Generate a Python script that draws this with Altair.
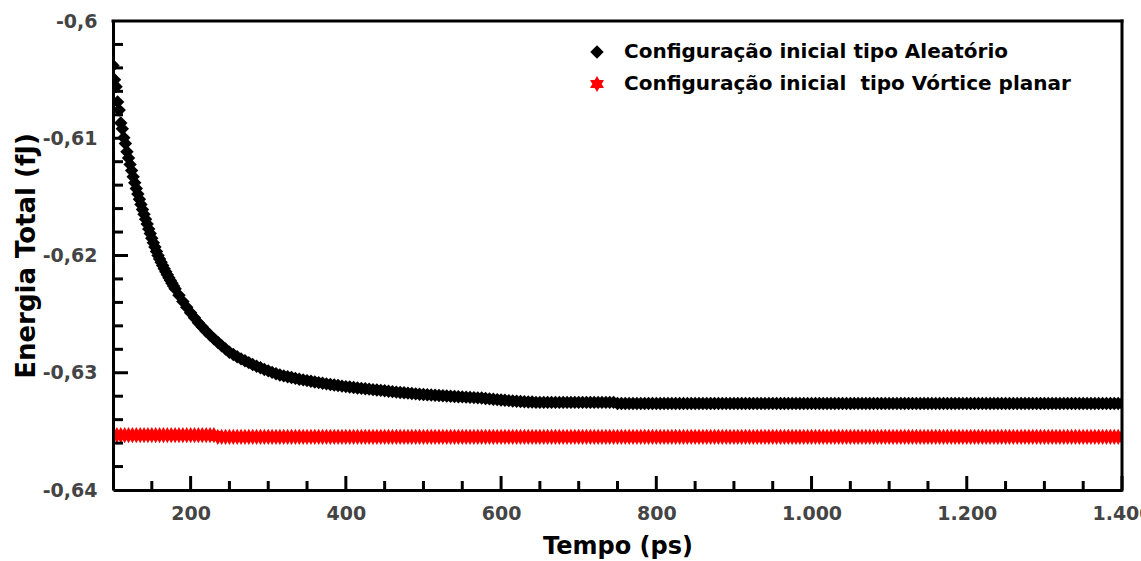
import altair as alt
import pandas as pd

SERIES = ["Configuração inicial tipo Aleatório",
          "Configuração inicial\u00a0 tipo Vórtice planar"]

# time grids (ps)
T_BLACK = list(range(100, 181, 2)) + list(range(185, 1401, 5))
T_RED = list(range(100, 1401, 5))

# Energia total (fJ) - random initial configuration
E_BLACK = [
    -0.60380, -0.60500, -0.60560, -0.60690, -0.60760, -0.60870, -0.60920, -0.60995, -0.61045, -0.61115,
    -0.61168, -0.61223, -0.61276, -0.61328, -0.61379, -0.61428, -0.61475, -0.61520, -0.61564, -0.61607,
    -0.61649, -0.61690, -0.61731, -0.61773, -0.61813, -0.61853, -0.61891, -0.61928, -0.61965, -0.62000,
    -0.62029, -0.62057, -0.62085, -0.62112, -0.62138, -0.62164, -0.62189, -0.62213, -0.62237, -0.62260,
    -0.62284,
    # 185 .. 640 step 5
    -0.62339, -0.62392, -0.62441, -0.62488, -0.62531, -0.62573, -0.62610, -0.62646, -0.62679, -0.62711,
    -0.62740, -0.62770, -0.62798, -0.62825, -0.62845, -0.62864, -0.62882, -0.62898, -0.62914, -0.62930,
    -0.62944, -0.62958, -0.62972, -0.62984, -0.62997, -0.63008, -0.63019, -0.63027, -0.63034, -0.63041,
    -0.63048, -0.63055, -0.63061, -0.63067, -0.63073, -0.63079, -0.63084, -0.63090, -0.63095, -0.63100,
    -0.63105, -0.63109, -0.63114, -0.63118, -0.63122, -0.63126, -0.63130, -0.63133, -0.63137, -0.63140,
    -0.63144, -0.63147, -0.63150, -0.63154, -0.63158, -0.63161, -0.63165, -0.63168, -0.63171, -0.63174,
    -0.63177, -0.63180, -0.63183, -0.63185, -0.63188, -0.63190, -0.63192, -0.63194, -0.63196, -0.63198,
    -0.63200, -0.63202, -0.63204, -0.63206, -0.63208, -0.63210, -0.63212, -0.63214, -0.63216, -0.63220,
    -0.63223, -0.63226, -0.63229, -0.63232, -0.63235, -0.63238, -0.63241, -0.63243, -0.63245, -0.63247,
    -0.63249, -0.63250,
    # 645 .. 745
    -0.63253, -0.63253, -0.63253, -0.63253, -0.63253, -0.63253, -0.63253, -0.63253, -0.63253, -0.63253,
    -0.63253, -0.63253, -0.63253, -0.63253, -0.63253, -0.63253, -0.63253, -0.63253, -0.63253, -0.63253,
    -0.63253,
    # 750 .. 1400
    -0.63262, -0.63262, -0.63262, -0.63262, -0.63262, -0.63262, -0.63262, -0.63262, -0.63262, -0.63262,
    -0.63262, -0.63262, -0.63262, -0.63262, -0.63262, -0.63262, -0.63262, -0.63262, -0.63262, -0.63262,
    -0.63262, -0.63262, -0.63262, -0.63262, -0.63262, -0.63262, -0.63262, -0.63262, -0.63262, -0.63262,
    -0.63262, -0.63262, -0.63262, -0.63262, -0.63262, -0.63262, -0.63262, -0.63262, -0.63262, -0.63262,
    -0.63262, -0.63262, -0.63262, -0.63262, -0.63262, -0.63262, -0.63262, -0.63262, -0.63262, -0.63262,
    -0.63262, -0.63262, -0.63262, -0.63262, -0.63262, -0.63262, -0.63262, -0.63262, -0.63262, -0.63262,
    -0.63262, -0.63262, -0.63262, -0.63262, -0.63262, -0.63262, -0.63262, -0.63262, -0.63262, -0.63262,
    -0.63262, -0.63262, -0.63262, -0.63262, -0.63262, -0.63262, -0.63262, -0.63262, -0.63262, -0.63262,
    -0.63262, -0.63262, -0.63262, -0.63262, -0.63262, -0.63262, -0.63262, -0.63262, -0.63262, -0.63262,
    -0.63262, -0.63262, -0.63262, -0.63262, -0.63262, -0.63262, -0.63262, -0.63262, -0.63262, -0.63262,
    -0.63262, -0.63262, -0.63262, -0.63262, -0.63262, -0.63262, -0.63262, -0.63262, -0.63262, -0.63262,
    -0.63262, -0.63262, -0.63262, -0.63262, -0.63262, -0.63262, -0.63262, -0.63262, -0.63262, -0.63262,
    -0.63262, -0.63262, -0.63262, -0.63262, -0.63262, -0.63262, -0.63262, -0.63262, -0.63262, -0.63262,
    -0.63262,
]

# Energia total (fJ) - planar vortex initial configuration
E_RED = [
    # 100 .. 230
    -0.63532, -0.63532, -0.63532, -0.63532, -0.63532, -0.63532, -0.63532, -0.63532, -0.63532, -0.63532,
    -0.63532, -0.63532, -0.63532, -0.63532, -0.63532, -0.63532, -0.63532, -0.63532, -0.63532, -0.63532,
    -0.63532, -0.63532, -0.63532, -0.63532, -0.63532, -0.63532, -0.63532,
    # 235 .. 1400
    -0.63547, -0.63547, -0.63547, -0.63547, -0.63547, -0.63547, -0.63547, -0.63547, -0.63547, -0.63547,
    -0.63547, -0.63547, -0.63547, -0.63547, -0.63547, -0.63547, -0.63547, -0.63547, -0.63547, -0.63547,
    -0.63547, -0.63547, -0.63547, -0.63547, -0.63547, -0.63547, -0.63547, -0.63547, -0.63547, -0.63547,
    -0.63547, -0.63547, -0.63547, -0.63547, -0.63547, -0.63547, -0.63547, -0.63547, -0.63547, -0.63547,
    -0.63547, -0.63547, -0.63547, -0.63547, -0.63547, -0.63547, -0.63547, -0.63547, -0.63547, -0.63547,
    -0.63547, -0.63547, -0.63547, -0.63547, -0.63547, -0.63547, -0.63547, -0.63547, -0.63547, -0.63547,
    -0.63547, -0.63547, -0.63547, -0.63547, -0.63547, -0.63547, -0.63547, -0.63547, -0.63547, -0.63547,
    -0.63547, -0.63547, -0.63547, -0.63547, -0.63547, -0.63547, -0.63547, -0.63547, -0.63547, -0.63547,
    -0.63547, -0.63547, -0.63547, -0.63547, -0.63547, -0.63547, -0.63547, -0.63547, -0.63547, -0.63547,
    -0.63547, -0.63547, -0.63547, -0.63547, -0.63547, -0.63547, -0.63547, -0.63547, -0.63547, -0.63547,
    -0.63547, -0.63547, -0.63547, -0.63547, -0.63547, -0.63547, -0.63547, -0.63547, -0.63547, -0.63547,
    -0.63547, -0.63547, -0.63547, -0.63547, -0.63547, -0.63547, -0.63547, -0.63547, -0.63547, -0.63547,
    -0.63547, -0.63547, -0.63547, -0.63547, -0.63547, -0.63547, -0.63547, -0.63547, -0.63547, -0.63547,
    -0.63547, -0.63547, -0.63547, -0.63547, -0.63547, -0.63547, -0.63547, -0.63547, -0.63547, -0.63547,
    -0.63547, -0.63547, -0.63547, -0.63547, -0.63547, -0.63547, -0.63547, -0.63547, -0.63547, -0.63547,
    -0.63547, -0.63547, -0.63547, -0.63547, -0.63547, -0.63547, -0.63547, -0.63547, -0.63547, -0.63547,
    -0.63547, -0.63547, -0.63547, -0.63547, -0.63547, -0.63547, -0.63547, -0.63547, -0.63547, -0.63547,
    -0.63547, -0.63547, -0.63547, -0.63547, -0.63547, -0.63547, -0.63547, -0.63547, -0.63547, -0.63547,
    -0.63547, -0.63547, -0.63547, -0.63547, -0.63547, -0.63547, -0.63547, -0.63547, -0.63547, -0.63547,
    -0.63547, -0.63547, -0.63547, -0.63547, -0.63547, -0.63547, -0.63547, -0.63547, -0.63547, -0.63547,
    -0.63547, -0.63547, -0.63547, -0.63547, -0.63547, -0.63547, -0.63547, -0.63547, -0.63547, -0.63547,
    -0.63547, -0.63547, -0.63547, -0.63547, -0.63547, -0.63547, -0.63547, -0.63547, -0.63547, -0.63547,
    -0.63547, -0.63547, -0.63547, -0.63547, -0.63547, -0.63547, -0.63547, -0.63547, -0.63547, -0.63547,
    -0.63547, -0.63547, -0.63547, -0.63547,
]

X_LABELS = [200, 400, 600, 800, 1000, 1200, 1400]
X_MINOR = [150, 250, 300, 350, 450, 500, 550, 650, 700, 750, 850, 900, 950,
           1050, 1100, 1150, 1250, 1300, 1350]
Y_LABELS = [-0.64, -0.63, -0.62, -0.61, -0.60]
Y_MAJOR = [-0.63, -0.62, -0.61]
Y_MINOR = [-0.638, -0.636, -0.634, -0.632, -0.628, -0.626, -0.624, -0.622,
           -0.618, -0.616, -0.614, -0.612, -0.608, -0.606, -0.604, -0.602]

n_b = min(len(T_BLACK), len(E_BLACK))
n_r = min(len(T_RED), len(E_RED))
df = pd.DataFrame({
    "t": T_BLACK[:n_b] + T_RED[:n_r],
    "E": E_BLACK[:n_b] + E_RED[:n_r],
    "s": [SERIES[0]] * n_b + [SERIES[1]] * n_r,
})

W, H = 1009, 469
STAR = "M0,-1L0.866,0.5L-0.866,0.5Z M0,1L-0.866,-0.5L0.866,-0.5Z"
FONT = "DejaVu Sans"

xs = alt.Scale(domain=[100, 1400], nice=False, zero=False)
ys = alt.Scale(domain=[-0.64, -0.60], nice=False, zero=False)

leg = alt.Legend(title=None, orient="none", legendX=474, legendY=21, padding=0,
                 labelFont=FONT, labelFontSize=20, labelFontWeight="bold",
                 labelColor="black", symbolSize=120, labelOffset=17,
                 rowPadding=12, labelLimit=800, symbolStrokeWidth=0)

points = alt.Chart(df).mark_point(filled=True, opacity=1, clip=True, strokeWidth=0).encode(
    x=alt.X("t:Q", scale=xs, axis=alt.Axis(
        values=X_LABELS, format=",d", title="Tempo (ps)", labelFlush=False,
        labelPadding=14, titlePadding=11, titleFontSize=24, zindex=1)),
    y=alt.Y("E:Q", scale=ys, axis=alt.Axis(
        values=Y_LABELS, format=".2~f", title="Energia Total (fJ)",
        labelPadding=16, titlePadding=3, titleFontSize=26, zindex=1)),
    color=alt.Color("s:N", scale=alt.Scale(domain=SERIES, range=["black", "red"]), legend=leg),
    shape=alt.Shape("s:N", scale=alt.Scale(domain=SERIES, range=["diamond", STAR]), legend=leg),
    size=alt.Size("s:N", scale=alt.Scale(domain=SERIES, range=[180, 260]), legend=None),
)

tick_style = dict(color="black", strokeWidth=3)

x_minor = alt.Chart(pd.DataFrame({"t": X_MINOR})).mark_rule(**tick_style).encode(
    x="t:Q", y=alt.value(H), y2=alt.value(H - 9))
x_major = alt.Chart(pd.DataFrame({"t": X_LABELS})).mark_rule(**tick_style).encode(
    x="t:Q", y=alt.value(H), y2=alt.value(H - 14))
y_minor = alt.Chart(pd.DataFrame({"E": Y_MINOR})).mark_rule(**tick_style).encode(
    y="E:Q", x=alt.value(0), x2=alt.value(10))
y_major = alt.Chart(pd.DataFrame({"E": Y_MAJOR})).mark_rule(**tick_style).encode(
    y="E:Q", x=alt.value(0), x2=alt.value(15))

frame_top = alt.Chart(pd.DataFrame({"E": [-0.60]})).mark_rule(color="black", strokeWidth=3, strokeCap="square").encode(
    y="E:Q", x=alt.value(0), x2=alt.value(W))
frame_right = alt.Chart(pd.DataFrame({"t": [1400]})).mark_rule(color="black", strokeWidth=3, strokeCap="square").encode(
    x="t:Q", y=alt.value(0), y2=alt.value(H))

chart = alt.layer(points, x_minor, x_major, y_minor, y_major, frame_top, frame_right).properties(
    width=W, height=H,
    autosize=alt.AutoSizeParams(type="none"),
    padding={"left": 113, "top": 21, "right": 19, "bottom": 71},
    background="white",
).configure(
    locale=alt.Locale(number=alt.NumberLocale(decimal=",", thousands=".", grouping=[3],
                                              currency=["", ""], minus="-")),
).configure_view(stroke=None).configure_axis(
    grid=False, ticks=False, domain=True, domainColor="black", domainWidth=3,
    labelFont=FONT, labelFontSize=19, labelFontWeight="bold", labelColor="#444444",
    titleFont=FONT, titleFontWeight="bold", titleColor="black",
)

chart.save("out.html", embed_options={"renderer": "svg", "actions": False})
